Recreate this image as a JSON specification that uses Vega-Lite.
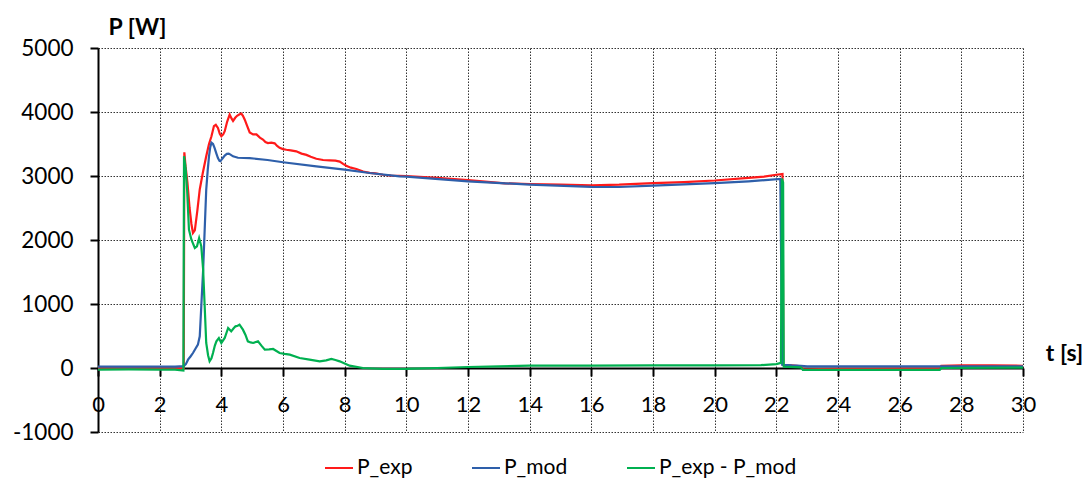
{
  "$schema": "https://vega.github.io/schema/vega-lite/v6.json",
  "width": 925,
  "height": 384,
  "autosize": "none",
  "padding": {"left": 98, "top": 48, "right": 66, "bottom": 48},
  "background": "white",
  "config": {
    "view": {"stroke": null},
    "font": "Lato"
  },
  "datasets": {
    "pts": [
      {"t": 0, "P": 0, "s": "P_exp"},
      {"t": 1, "P": -5, "s": "P_exp"},
      {"t": 2, "P": 0, "s": "P_exp"},
      {"t": 2.5, "P": -5, "s": "P_exp"},
      {"t": 2.78, "P": -10, "s": "P_exp"},
      {"t": 2.8, "P": 3370, "s": "P_exp"},
      {"t": 2.84, "P": 3150, "s": "P_exp"},
      {"t": 2.9, "P": 2900, "s": "P_exp"},
      {"t": 2.97, "P": 2500, "s": "P_exp"},
      {"t": 3.03, "P": 2250, "s": "P_exp"},
      {"t": 3.08, "P": 2110, "s": "P_exp"},
      {"t": 3.14, "P": 2150, "s": "P_exp"},
      {"t": 3.22, "P": 2450, "s": "P_exp"},
      {"t": 3.3, "P": 2790, "s": "P_exp"},
      {"t": 3.4, "P": 3050, "s": "P_exp"},
      {"t": 3.51, "P": 3310, "s": "P_exp"},
      {"t": 3.6, "P": 3500, "s": "P_exp"},
      {"t": 3.68, "P": 3620, "s": "P_exp"},
      {"t": 3.76, "P": 3780, "s": "P_exp"},
      {"t": 3.82, "P": 3800, "s": "P_exp"},
      {"t": 3.89, "P": 3750, "s": "P_exp"},
      {"t": 3.95, "P": 3660, "s": "P_exp"},
      {"t": 4.0, "P": 3620, "s": "P_exp"},
      {"t": 4.06, "P": 3650, "s": "P_exp"},
      {"t": 4.11, "P": 3700, "s": "P_exp"},
      {"t": 4.19, "P": 3850, "s": "P_exp"},
      {"t": 4.27, "P": 3960, "s": "P_exp"},
      {"t": 4.33, "P": 3900, "s": "P_exp"},
      {"t": 4.38, "P": 3860, "s": "P_exp"},
      {"t": 4.45, "P": 3910, "s": "P_exp"},
      {"t": 4.51, "P": 3940, "s": "P_exp"},
      {"t": 4.58, "P": 3960, "s": "P_exp"},
      {"t": 4.65, "P": 3975, "s": "P_exp"},
      {"t": 4.7, "P": 3940, "s": "P_exp"},
      {"t": 4.76, "P": 3880, "s": "P_exp"},
      {"t": 4.84, "P": 3780, "s": "P_exp"},
      {"t": 4.92, "P": 3680, "s": "P_exp"},
      {"t": 5.03, "P": 3650, "s": "P_exp"},
      {"t": 5.14, "P": 3650, "s": "P_exp"},
      {"t": 5.25, "P": 3600, "s": "P_exp"},
      {"t": 5.35, "P": 3570, "s": "P_exp"},
      {"t": 5.43, "P": 3530, "s": "P_exp"},
      {"t": 5.51, "P": 3515, "s": "P_exp"},
      {"t": 5.62, "P": 3520, "s": "P_exp"},
      {"t": 5.73, "P": 3510, "s": "P_exp"},
      {"t": 5.81, "P": 3470, "s": "P_exp"},
      {"t": 5.89, "P": 3440, "s": "P_exp"},
      {"t": 6.0, "P": 3420, "s": "P_exp"},
      {"t": 6.11, "P": 3410, "s": "P_exp"},
      {"t": 6.25, "P": 3400, "s": "P_exp"},
      {"t": 6.43, "P": 3385, "s": "P_exp"},
      {"t": 6.6, "P": 3350, "s": "P_exp"},
      {"t": 6.76, "P": 3330, "s": "P_exp"},
      {"t": 6.9, "P": 3300, "s": "P_exp"},
      {"t": 7.08, "P": 3270, "s": "P_exp"},
      {"t": 7.3, "P": 3250, "s": "P_exp"},
      {"t": 7.51, "P": 3245, "s": "P_exp"},
      {"t": 7.7, "P": 3240, "s": "P_exp"},
      {"t": 7.84, "P": 3225, "s": "P_exp"},
      {"t": 7.95, "P": 3190, "s": "P_exp"},
      {"t": 8.05, "P": 3160, "s": "P_exp"},
      {"t": 8.2, "P": 3130, "s": "P_exp"},
      {"t": 8.38, "P": 3110, "s": "P_exp"},
      {"t": 8.6, "P": 3070, "s": "P_exp"},
      {"t": 8.81, "P": 3050, "s": "P_exp"},
      {"t": 9.0, "P": 3040, "s": "P_exp"},
      {"t": 9.24, "P": 3020, "s": "P_exp"},
      {"t": 9.5, "P": 3005, "s": "P_exp"},
      {"t": 10, "P": 3000, "s": "P_exp"},
      {"t": 11, "P": 2970, "s": "P_exp"},
      {"t": 12, "P": 2935, "s": "P_exp"},
      {"t": 13.2, "P": 2885, "s": "P_exp"},
      {"t": 14, "P": 2875, "s": "P_exp"},
      {"t": 15, "P": 2865, "s": "P_exp"},
      {"t": 16, "P": 2855, "s": "P_exp"},
      {"t": 16.9, "P": 2865, "s": "P_exp"},
      {"t": 18, "P": 2890, "s": "P_exp"},
      {"t": 19, "P": 2905, "s": "P_exp"},
      {"t": 20, "P": 2930, "s": "P_exp"},
      {"t": 21.1, "P": 2970, "s": "P_exp"},
      {"t": 21.6, "P": 2990, "s": "P_exp"},
      {"t": 22.0, "P": 3020, "s": "P_exp"},
      {"t": 22.2, "P": 3030, "s": "P_exp"},
      {"t": 22.23, "P": 50, "s": "P_exp"},
      {"t": 22.5, "P": 40, "s": "P_exp"},
      {"t": 22.8, "P": 25, "s": "P_exp"},
      {"t": 22.86, "P": -20, "s": "P_exp"},
      {"t": 24, "P": -15, "s": "P_exp"},
      {"t": 25, "P": -15, "s": "P_exp"},
      {"t": 26, "P": -10, "s": "P_exp"},
      {"t": 27.3, "P": -10, "s": "P_exp"},
      {"t": 27.35, "P": 35, "s": "P_exp"},
      {"t": 28, "P": 40, "s": "P_exp"},
      {"t": 29, "P": 40, "s": "P_exp"},
      {"t": 30, "P": 35, "s": "P_exp"},

      {"t": 0, "P": 20, "s": "P_mod"},
      {"t": 2.5, "P": 20, "s": "P_mod"},
      {"t": 2.78, "P": 30, "s": "P_mod"},
      {"t": 2.85, "P": 60, "s": "P_mod"},
      {"t": 2.92, "P": 130, "s": "P_mod"},
      {"t": 3.0, "P": 180, "s": "P_mod"},
      {"t": 3.08, "P": 234, "s": "P_mod"},
      {"t": 3.16, "P": 300, "s": "P_mod"},
      {"t": 3.24, "P": 365, "s": "P_mod"},
      {"t": 3.3, "P": 495, "s": "P_mod"},
      {"t": 3.35, "P": 964, "s": "P_mod"},
      {"t": 3.41, "P": 1536, "s": "P_mod"},
      {"t": 3.46, "P": 2161, "s": "P_mod"},
      {"t": 3.51, "P": 2786, "s": "P_mod"},
      {"t": 3.56, "P": 3100, "s": "P_mod"},
      {"t": 3.6, "P": 3307, "s": "P_mod"},
      {"t": 3.64, "P": 3450, "s": "P_mod"},
      {"t": 3.68, "P": 3520, "s": "P_mod"},
      {"t": 3.73, "P": 3500, "s": "P_mod"},
      {"t": 3.78, "P": 3440, "s": "P_mod"},
      {"t": 3.84, "P": 3350, "s": "P_mod"},
      {"t": 3.89, "P": 3280, "s": "P_mod"},
      {"t": 3.94, "P": 3235, "s": "P_mod"},
      {"t": 3.97, "P": 3230, "s": "P_mod"},
      {"t": 4.03, "P": 3270, "s": "P_mod"},
      {"t": 4.11, "P": 3318, "s": "P_mod"},
      {"t": 4.18, "P": 3345, "s": "P_mod"},
      {"t": 4.24, "P": 3349, "s": "P_mod"},
      {"t": 4.31, "P": 3330, "s": "P_mod"},
      {"t": 4.38, "P": 3307, "s": "P_mod"},
      {"t": 4.54, "P": 3285, "s": "P_mod"},
      {"t": 4.92, "P": 3280, "s": "P_mod"},
      {"t": 5.5, "P": 3250, "s": "P_mod"},
      {"t": 6.0, "P": 3215, "s": "P_mod"},
      {"t": 7.08, "P": 3150, "s": "P_mod"},
      {"t": 8.0, "P": 3100, "s": "P_mod"},
      {"t": 8.81, "P": 3047, "s": "P_mod"},
      {"t": 9.78, "P": 2995, "s": "P_mod"},
      {"t": 10, "P": 2990, "s": "P_mod"},
      {"t": 12, "P": 2917, "s": "P_mod"},
      {"t": 14, "P": 2865, "s": "P_mod"},
      {"t": 16, "P": 2830, "s": "P_mod"},
      {"t": 16.9, "P": 2828, "s": "P_mod"},
      {"t": 18, "P": 2850, "s": "P_mod"},
      {"t": 18.8, "P": 2865, "s": "P_mod"},
      {"t": 20, "P": 2890, "s": "P_mod"},
      {"t": 21.1, "P": 2917, "s": "P_mod"},
      {"t": 22.13, "P": 2953, "s": "P_mod"},
      {"t": 22.19, "P": 50, "s": "P_mod"},
      {"t": 22.5, "P": 40, "s": "P_mod"},
      {"t": 22.8, "P": 35, "s": "P_mod"},
      {"t": 23, "P": 25, "s": "P_mod"},
      {"t": 25, "P": 25, "s": "P_mod"},
      {"t": 27.3, "P": 25, "s": "P_mod"},
      {"t": 28, "P": 25, "s": "P_mod"},
      {"t": 30, "P": 25, "s": "P_mod"},

      {"t": 0, "P": -25, "s": "P_exp - P_mod"},
      {"t": 1, "P": -20, "s": "P_exp - P_mod"},
      {"t": 2, "P": -25, "s": "P_exp - P_mod"},
      {"t": 2.5, "P": -25, "s": "P_exp - P_mod"},
      {"t": 2.77, "P": -40, "s": "P_exp - P_mod"},
      {"t": 2.79, "P": 3310, "s": "P_exp - P_mod"},
      {"t": 2.84, "P": 3125, "s": "P_exp - P_mod"},
      {"t": 2.89, "P": 2786, "s": "P_exp - P_mod"},
      {"t": 2.95, "P": 2161, "s": "P_exp - P_mod"},
      {"t": 3.03, "P": 2005, "s": "P_exp - P_mod"},
      {"t": 3.14, "P": 1875, "s": "P_exp - P_mod"},
      {"t": 3.21, "P": 1901, "s": "P_exp - P_mod"},
      {"t": 3.28, "P": 2031, "s": "P_exp - P_mod"},
      {"t": 3.35, "P": 1901, "s": "P_exp - P_mod"},
      {"t": 3.41, "P": 1536, "s": "P_exp - P_mod"},
      {"t": 3.46, "P": 964, "s": "P_exp - P_mod"},
      {"t": 3.51, "P": 391, "s": "P_exp - P_mod"},
      {"t": 3.57, "P": 200, "s": "P_exp - P_mod"},
      {"t": 3.62, "P": 104, "s": "P_exp - P_mod"},
      {"t": 3.68, "P": 150, "s": "P_exp - P_mod"},
      {"t": 3.73, "P": 234, "s": "P_exp - P_mod"},
      {"t": 3.79, "P": 350, "s": "P_exp - P_mod"},
      {"t": 3.84, "P": 417, "s": "P_exp - P_mod"},
      {"t": 3.92, "P": 469, "s": "P_exp - P_mod"},
      {"t": 4.0, "P": 391, "s": "P_exp - P_mod"},
      {"t": 4.11, "P": 469, "s": "P_exp - P_mod"},
      {"t": 4.22, "P": 625, "s": "P_exp - P_mod"},
      {"t": 4.32, "P": 573, "s": "P_exp - P_mod"},
      {"t": 4.4, "P": 620, "s": "P_exp - P_mod"},
      {"t": 4.46, "P": 651, "s": "P_exp - P_mod"},
      {"t": 4.53, "P": 660, "s": "P_exp - P_mod"},
      {"t": 4.59, "P": 677, "s": "P_exp - P_mod"},
      {"t": 4.7, "P": 599, "s": "P_exp - P_mod"},
      {"t": 4.78, "P": 520, "s": "P_exp - P_mod"},
      {"t": 4.86, "P": 417, "s": "P_exp - P_mod"},
      {"t": 4.95, "P": 400, "s": "P_exp - P_mod"},
      {"t": 5.03, "P": 391, "s": "P_exp - P_mod"},
      {"t": 5.19, "P": 417, "s": "P_exp - P_mod"},
      {"t": 5.3, "P": 350, "s": "P_exp - P_mod"},
      {"t": 5.41, "P": 286, "s": "P_exp - P_mod"},
      {"t": 5.55, "P": 290, "s": "P_exp - P_mod"},
      {"t": 5.68, "P": 297, "s": "P_exp - P_mod"},
      {"t": 5.89, "P": 234, "s": "P_exp - P_mod"},
      {"t": 6.05, "P": 220, "s": "P_exp - P_mod"},
      {"t": 6.22, "P": 208, "s": "P_exp - P_mod"},
      {"t": 6.54, "P": 156, "s": "P_exp - P_mod"},
      {"t": 6.86, "P": 130, "s": "P_exp - P_mod"},
      {"t": 7.19, "P": 104, "s": "P_exp - P_mod"},
      {"t": 7.4, "P": 120, "s": "P_exp - P_mod"},
      {"t": 7.57, "P": 141, "s": "P_exp - P_mod"},
      {"t": 7.7, "P": 125, "s": "P_exp - P_mod"},
      {"t": 7.84, "P": 104, "s": "P_exp - P_mod"},
      {"t": 8.0, "P": 70, "s": "P_exp - P_mod"},
      {"t": 8.16, "P": 36, "s": "P_exp - P_mod"},
      {"t": 8.59, "P": 0, "s": "P_exp - P_mod"},
      {"t": 9.24, "P": -16, "s": "P_exp - P_mod"},
      {"t": 10, "P": -15, "s": "P_exp - P_mod"},
      {"t": 11, "P": 0, "s": "P_exp - P_mod"},
      {"t": 12, "P": 16, "s": "P_exp - P_mod"},
      {"t": 13, "P": 25, "s": "P_exp - P_mod"},
      {"t": 14, "P": 36, "s": "P_exp - P_mod"},
      {"t": 16, "P": 36, "s": "P_exp - P_mod"},
      {"t": 18, "P": 40, "s": "P_exp - P_mod"},
      {"t": 20, "P": 40, "s": "P_exp - P_mod"},
      {"t": 21.5, "P": 45, "s": "P_exp - P_mod"},
      {"t": 22.0, "P": 60, "s": "P_exp - P_mod"},
      {"t": 22.15, "P": 80, "s": "P_exp - P_mod"},
      {"t": 22.18, "P": 2960, "s": "P_exp - P_mod"},
      {"t": 22.22, "P": 2900, "s": "P_exp - P_mod"},
      {"t": 22.24, "P": 20, "s": "P_exp - P_mod"},
      {"t": 22.8, "P": 10, "s": "P_exp - P_mod"},
      {"t": 22.86, "P": -30, "s": "P_exp - P_mod"},
      {"t": 25, "P": -30, "s": "P_exp - P_mod"},
      {"t": 27.3, "P": -30, "s": "P_exp - P_mod"},
      {"t": 27.35, "P": 0, "s": "P_exp - P_mod"},
      {"t": 30, "P": 5, "s": "P_exp - P_mod"}
    ]
  },
  "data": {"name": "pts"},
  "encoding": {
    "x": {
      "field": "t", "type": "quantitative",
      "scale": {"domain": [0, 30], "nice": false, "zero": false},
      "axis": {
        "values": [0, 2, 4, 6, 8, 10, 12, 14, 16, 18, 20, 22, 24, 26, 28, 30],
        "labelExpr": "'' + datum.value",
        "offset": -64,
        "title": "t [s]",
        "titleFont": "Lato", "titleFontSize": 23, "titleFontWeight": "bold", "titleColor": "#000",
        "titleAngle": 0, "titleAlign": "center", "titleBaseline": "middle",
        "titleX": 966, "titleY": -15,
        "labelFont": "Lato", "labelFontSize": 22, "labelColor": "#000", "labelPadding": 18,
        "labelFlush": false, "labelOverlap": false,
        "tickSize": 8, "tickColor": "#000", "tickWidth": 2,
        "domainColor": "#000", "domainWidth": 2,
        "grid": true, "gridColor": "#333", "gridDash": [1.5, 1.5], "gridWidth": 1, "gridOpacity": 1
      }
    },
    "y": {
      "field": "P", "type": "quantitative",
      "scale": {"domain": [-1000, 5000], "nice": false, "zero": false},
      "axis": {
        "values": [-1000, 0, 1000, 2000, 3000, 4000, 5000],
        "labelExpr": "'' + datum.value",
        "title": "P [W]",
        "titleFont": "Lato", "titleFontSize": 23, "titleFontWeight": "bold", "titleColor": "#000",
        "titleAngle": 0, "titleAlign": "center", "titleBaseline": "middle",
        "titleX": 39, "titleY": -21,
        "labelFont": "Lato", "labelFontSize": 22.5, "labelColor": "#000", "labelPadding": 17,
        "labelFlush": false, "labelOverlap": false,
        "tickSize": 8, "tickColor": "#000", "tickWidth": 2,
        "domainColor": "#000", "domainWidth": 2,
        "grid": true, "gridColor": "#333", "gridDash": [1.5, 1.5], "gridWidth": 1, "gridOpacity": 1
      }
    },
    "color": {
      "field": "s", "type": "nominal",
      "scale": {"domain": ["P_exp", "P_mod", "P_exp - P_mod"], "range": ["#ff1a1a", "#2e5faa", "#00b050"]},
      "legend": {
        "title": null, "orient": "none", "direction": "horizontal",
        "legendX": 226, "legendY": 405, "padding": 0,
        "symbolType": "stroke", "symbolSize": 784, "symbolStrokeWidth": 2,
        "labelFont": "Lato", "labelFontSize": 21, "labelColor": "#000", "labelOffset": 3,
        "columnPadding": 55
      }
    }
  },
  "layer": [
    {"transform": [{"filter": "datum.s === 'P_exp'"}], "mark": {"type": "line", "strokeWidth": 2.2}},
    {"transform": [{"filter": "datum.s === 'P_mod'"}], "mark": {"type": "line", "strokeWidth": 2.2}},
    {"transform": [{"filter": "datum.s === 'P_exp - P_mod'"}], "mark": {"type": "line", "strokeWidth": 2.2}}
  ]
}
